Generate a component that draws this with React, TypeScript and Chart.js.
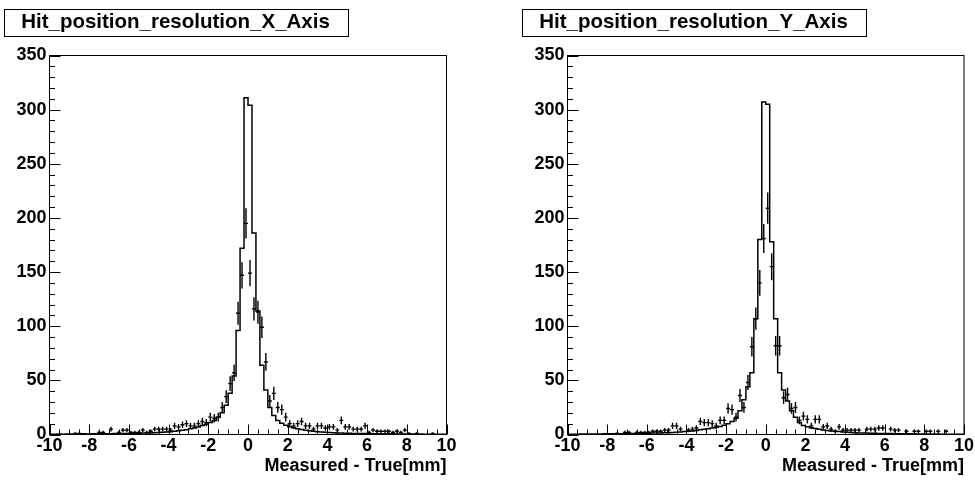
import React, { useEffect, useRef } from "react";
import { Chart, registerables } from "chart.js";

Chart.register(...registerables);

const FONT = '"Liberation Sans", Arial, Helvetica, sans-serif';

// Binning of both histograms: 100 bins from -10 to 10
const BIN_LOW = -10;
const BIN_WIDTH = 0.2;

const X_MIN = -10;
const X_MAX = 10;
const Y_MIN = 0;
const Y_MAX = 350;
const X_TICK_STEP = 2;
const Y_TICK_STEP = 50;

const AXIS_TITLE = "Measured - True[mm]";
const TITLE_LEFT = "Hit_position_resolution_X_Axis";
const TITLE_RIGHT = "Hit_position_resolution_Y_Axis";

// Left panel: simulated histogram (step line), one value per bin, -9.9 ... 9.9
const X_HIST = [
  0.3, 0.3, 0.4, 0.3, 0.4, 0.5, 0.4, 0.5, 0.6, 0.5,
  0.6, 0.7, 0.6, 0.7, 0.8, 0.8, 0.9, 0.9, 1.0, 1.0,
  1.1, 1.2, 1.2, 1.3, 1.4, 1.5, 1.6, 1.8, 2.0, 2.3,
  2.6, 3.0, 3.4, 3.9, 4.5, 5.2, 6.0, 7.0, 8.2, 9.5,
  11, 13, 16, 20, 27, 38, 54, 96, 172, 311,
  304, 186, 114, 64, 41, 25, 17.5, 13, 10.5, 8.5,
  7.2, 6.2, 5.3, 4.6, 4.0, 3.5, 3.0, 2.6, 2.3, 2.0,
  1.8, 1.6, 1.4, 1.3, 1.2, 1.1, 1.0, 1.0, 0.9, 0.9,
  0.8, 0.8, 0.7, 0.7, 0.6, 0.6, 0.6, 0.5, 0.5, 0.5,
  0.4, 0.4, 0.4, 0.4, 0.3, 0.3, 0.3, 0.3, 0.3, 0.3,
];

// Left panel: measured counts per bin (null = empty bin)
const X_DATA = [
  null, null, null, null, null, null, 1, 1, null, null,
  null, null, 2, 2, null, 5, null, 2, 4, 4,
  2, 2, 2, 4, 2, 3, 5, 5, 5, 5,
  4, 8, 7, 9, 10, 8, 8, 10, 12, 11,
  16, 15, 16, 25, 35, 47, 57, 112, 147, 195,
  149, 116, 113, 99, 67, 31, 38, 25, 23, 16,
  10, 8, 10, 12, 8, 8, 5, 8, 8, 6,
  7, 7, 4, 13, 7, 7, 5, 5, 5, 8,
  2, 4, 3, 3, 3, 3, 2, 3, 2, 4,
  1, null, 1, null, null, null, 1, null, null, null,
];

// Right panel: simulated histogram
const Y_HIST = [
  0.3, 0.3, 0.3, 0.4, 0.4, 0.4, 0.5, 0.5, 0.5, 0.6,
  0.6, 0.7, 0.7, 0.8, 0.8, 0.9, 0.9, 1.0, 1.0, 1.1,
  1.2, 1.3, 1.4, 1.5, 1.6, 1.7, 1.9, 2.1, 2.4, 2.7,
  3.0, 3.3, 3.8, 4.3, 4.8, 5.3, 6.0, 6.7, 7.5, 8.5,
  10, 12, 15, 22, 32, 44, 57, 107, 180, 307,
  305, 178, 107, 57, 41, 31, 22, 16, 11, 8.3,
  7.2, 6.3, 5.5, 4.8, 4.2, 3.7, 3.3, 3.0, 2.7, 2.4,
  2.1, 1.9, 1.7, 1.5, 1.4, 1.3, 1.2, 1.1, 1.0, 1.0,
  0.9, 0.9, 0.8, 0.8, 0.7, 0.7, 0.6, 0.6, 0.5, 0.5,
  0.5, 0.4, 0.4, 0.4, 0.3, 0.3, 0.3, 0.3, 0.3, 0.3,
];

// Right panel: measured counts per bin
const Y_DATA = [
  null, null, null, null, null, null, null, null, null, null,
  null, null, 1, null, 2, 2, null, 2, 2, 2,
  2, 3, 3, 3, 4, 4, 8, 8, 5, null,
  4, 5, 6, 12, 11, 11, 10, 8, 13, 13,
  24, 23, 16, 36, 25, 48, 81, 107, 140, 181,
  209, 155, 82, 82, 34, 37, 24, 25, 13, 17,
  14, 8, 14, 14, 7, 8, 5, 3, 7, 4,
  4, 4, 4, 4, null, 5, 5, 5, 6, 6,
  null, 5, 4, 4, null, 3, null, 3, 3, null,
  3, 3, null, 3, null, 3, null, null, null, null,
];

const rootStyle = {
  id: "rootStyle",
  afterDatasetsDraw(chart: any) {
    const { ctx } = chart;
    const xs = chart.scales.x;
    const ys = chart.scales.y;
    const ds = chart.data.datasets[1];
    ctx.save();
    ctx.strokeStyle = "#000";
    ctx.lineWidth = 1.4;
    ds.data.forEach((p: any) => {
      const e = Math.sqrt(p.y);
      const px = xs.getPixelForValue(p.x);
      const py = ys.getPixelForValue(p.y);
      const top = ys.getPixelForValue(p.y + e);
      const bot = ys.getPixelForValue(Math.max(0, p.y - e));
      const l = xs.getPixelForValue(p.x - BIN_WIDTH / 2);
      const r = xs.getPixelForValue(p.x + BIN_WIDTH / 2);
      ctx.beginPath();
      ctx.moveTo(px, top);
      ctx.lineTo(px, bot);
      ctx.moveTo(l, py);
      ctx.lineTo(r, py);
      ctx.stroke();
    });
    ctx.restore();
  },
  afterDraw(chart: any, _args: any, opts: any) {
    const { ctx, chartArea } = chart;
    const xs = chart.scales.x;
    const ys = chart.scales.y;
    const { left, right, top, bottom } = chartArea;
    ctx.save();
    ctx.strokeStyle = "#000";
    ctx.lineWidth = 1;
    ctx.strokeRect(left, top, right - left, bottom - top);
    // inner ticks on x axis and y axis
    ctx.beginPath();
    for (let k = 0; k <= 40; k++) {
      const v = X_MIN + k * 0.5;
      const px = Math.round(xs.getPixelForValue(v)) + 0.5;
      const len = k % 4 === 0 ? 10 : 5;
      ctx.moveTo(px, bottom);
      ctx.lineTo(px, bottom - len);
    }
    for (let k = 0; k <= 35; k++) {
      const v = Y_MIN + k * 10;
      const py = Math.round(ys.getPixelForValue(v)) + 0.5;
      const len = k % 5 === 0 ? 11 : 5.5;
      ctx.moveTo(left, py);
      ctx.lineTo(left + len, py);
    }
    ctx.stroke();
    // title box
    ctx.strokeRect(4.5, 9.5, 344, 27);
    ctx.fillStyle = "#000";
    ctx.font = `bold 20.5px ${FONT}`;
    ctx.textAlign = "center";
    ctx.textBaseline = "alphabetic";
    ctx.fillText(opts.title, 175.5, 27.5);
    ctx.restore();
  },
};

function Panel(props: { title: string; hist: number[]; data: (number | null)[]; left: number; width: number }) {
  const ref = useRef<HTMLCanvasElement | null>(null);
  useEffect(() => {
    if (!ref.current) return;
    const histPoints = props.hist.map((v, i) => ({ x: BIN_LOW + i * BIN_WIDTH, y: v }));
    histPoints.push({ x: BIN_LOW + props.hist.length * BIN_WIDTH, y: props.hist[props.hist.length - 1] });
    const dataPoints: { x: number; y: number }[] = [];
    props.data.forEach((v, i) => {
      if (v !== null) dataPoints.push({ x: BIN_LOW + (i + 0.5) * BIN_WIDTH, y: v });
    });
    const tickFont = { family: FONT, size: 18, weight: "bold" as const };
    const chart = new Chart(ref.current, {
      type: "scatter",
      data: {
        datasets: [
          {
            type: "line",
            data: histPoints,
            stepped: "before",
            borderColor: "#000",
            borderWidth: 1.5,
            pointRadius: 0,
            fill: false,
          } as any,
          {
            type: "scatter",
            data: dataPoints,
            pointRadius: 0,
            showLine: false,
            borderColor: "#000",
            backgroundColor: "#000",
          } as any,
        ],
      },
      options: {
        animation: false,
        responsive: false,
        maintainAspectRatio: false,
        events: [],
        layout: { padding: { left: 0, top: 55.5, right: props.width - 446.5, bottom: 0 } },
        plugins: {
          legend: { display: false },
          tooltip: { enabled: false },
          rootStyle: { title: props.title },
        } as any,
        scales: {
          x: {
            type: "linear",
            min: X_MIN,
            max: X_MAX,
            grid: { display: false, drawTicks: false },
            border: { display: false },
            ticks: { stepSize: X_TICK_STEP, font: tickFont, color: "#000", padding: 1, maxRotation: 0, autoSkip: false },
            title: {
              display: true,
              text: AXIS_TITLE,
              align: "end",
              color: "#000",
              font: tickFont,
              padding: { top: 0, bottom: 3 },
            },
            afterFit: (s: any) => {
              s.height = 480 - 434.5;
            },
          },
          y: {
            type: "linear",
            min: Y_MIN,
            max: Y_MAX,
            grid: { display: false, drawTicks: false },
            border: { display: false },
            ticks: { stepSize: Y_TICK_STEP, font: tickFont, color: "#000", padding: 3, autoSkip: false },
            afterFit: (s: any) => {
              s.width = 49.5;
            },
          },
        },
      } as any,
      plugins: [rootStyle],
    });
    return () => chart.destroy();
  }, []);
  return (
    <canvas
      ref={ref}
      width={props.width}
      height={480}
      style={{ position: "absolute", left: props.left, top: 0, width: props.width, height: 480, display: "block" }}
    />
  );
}

export default function App() {
  return (
    <div style={{ position: "absolute", left: 0, top: 0, width: 975, height: 480, background: "#fff", overflow: "hidden" }}>
      <Panel title={TITLE_LEFT} hist={X_HIST} data={X_DATA} left={0} width={487} />
      <Panel title={TITLE_RIGHT} hist={Y_HIST} data={Y_DATA} left={518} width={457} />
    </div>
  );
}
